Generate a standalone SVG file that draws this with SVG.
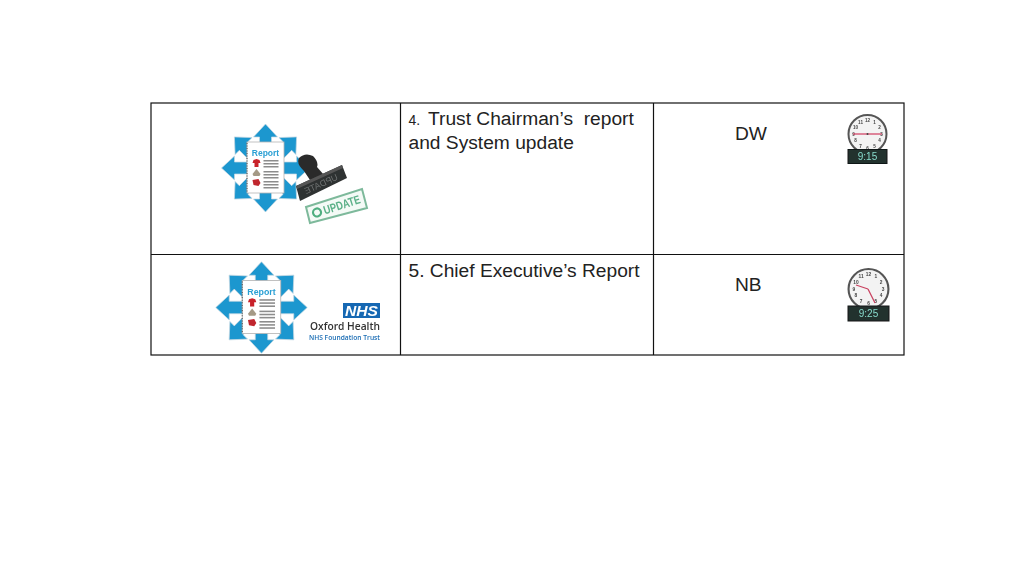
<svg xmlns="http://www.w3.org/2000/svg" width="1024" height="576" viewBox="0 0 1024 576">
<style>
text{font-family:"Liberation Sans",Arial,sans-serif;white-space:pre}
.t{font-size:19.200px;fill:#222}
.grid{stroke:#111;stroke-width:1.200;fill:none}
.ar{fill:#1f97cf;stroke:#c4d8e2;stroke-width:.7}
.bar{fill:#8c8c8c}
.n{font-size:4.600px;fill:#444;text-anchor:middle;font-weight:bold}
.disp{fill:#24302f;stroke:#101818;stroke-width:1}
.dt{font-size:10px;fill:#86dccb;text-anchor:middle}
.soft{filter:url(#soft)}
</style>
<defs>
<filter id="soft" x="-10%" y="-10%" width="120%" height="120%"><feGaussianBlur stdDeviation="0.35"/></filter>
<g id="report">
<path id="a" class="ar" d="M0-44 L12-31 L6-31 L6-15 L-6-15 L-6-31 L-12-31Z"/>
<use href="#a" transform="rotate(90)"/>
<use href="#a" transform="rotate(180)"/>
<use href="#a" transform="rotate(270)"/>
<use href="#a" transform="rotate(45)"/>
<use href="#a" transform="rotate(135)"/>
<use href="#a" transform="rotate(225)"/>
<use href="#a" transform="rotate(315)"/>
<rect x="-18.500" y="-26" width="37" height="51" fill="#fff" stroke="#b5b5b5" stroke-width=".8"/>
<line x1="-18.500" y1="-25" x2="-18.500" y2="24" stroke="#666" stroke-width="1.200" stroke-dasharray="1 1.500"/>
<text x="0" y="-12.500" font-size="8.500" font-weight="bold" fill="#2ba0d4" text-anchor="middle">Report</text>
<path d="M-12-8 L-9-9 L-6-8 L-5-5 L-7-5 L-7-1 L-11-1 L-11-5 L-13-5Z" fill="#c8202a"/>
<path d="M-13 6 L-9 1 L-5 6 L-6 8 L-12 8Z" fill="#a59a86"/>
<path d="M-13 12 L-7 11 L-5 15 L-7 18 L-12 17Z" fill="#c0252d"/>
<rect class="bar" x="-2" y="-8" width="15" height="1.500"/><rect class="bar" x="-2" y="-5" width="15" height="1.500"/><rect class="bar" x="-2" y="-2" width="15" height="1.500"/>
<rect class="bar" x="-2" y="3" width="15" height="1.500"/><rect class="bar" x="-2" y="6" width="15" height="1.500"/><rect class="bar" x="-2" y="9" width="15" height="1.500"/>
<rect class="bar" x="-2" y="13" width="15" height="1.500"/><rect class="bar" x="-2" y="16" width="15" height="1.500"/><rect class="bar" x="-2" y="19" width="15" height="1.500"/>
</g>
<g id="dial">
<circle r="19" fill="#f3f3f3" stroke="#555" stroke-width="2"/>
<text class="n" x="0" y="-12.500">12</text><text class="n" x="7" y="-10.500">1</text><text class="n" x="12" y="-5">2</text><text class="n" x="14" y="1.500">3</text><text class="n" x="12" y="8">4</text><text class="n" x="7" y="13.500">5</text><text class="n" x="0" y="15.500">6</text><text class="n" x="-7" y="13.500">7</text><text class="n" x="-12" y="8">8</text><text class="n" x="-14" y="1.500">9</text><text class="n" x="-12" y="-5">10</text><text class="n" x="-7" y="-10.500">11</text>
</g>
</defs>

<g id="connectors" class="grid">
<rect x="151" y="103" width="753" height="252"/>
<line x1="151" y1="254.500" x2="904" y2="254.500"/>
<line x1="400.500" y1="103" x2="400.500" y2="355"/>
<line x1="653.500" y1="103" x2="653.500" y2="355"/>
</g>

<g id="node-report-update" class="soft">
<use href="#report" transform="translate(265.500 168)"/>
<polygon points="306,207 362,189 367,208 310,223" fill="#f4faf6" stroke="#7db99b" stroke-width="2"/>
<g transform="rotate(-18 337 206)">
<circle cx="316" cy="206" r="4" fill="none" stroke="#4fae80" stroke-width="2.200"/>
<text x="342" y="210.500" font-size="12" font-weight="bold" fill="#5cb088" text-anchor="middle" textLength="38" lengthAdjust="spacingAndGlyphs">UPDATE</text>
</g>
<path d="M310 180 L304 171 Q296 164 299 158 Q305 152 313 156 Q319 162 317 167 L324 175Z" fill="#2b2b2b"/>
<polygon points="296,186 342,165 347,178 300,201" fill="#2e3030"/>
<polygon points="296,186 342,165 343,168 297,189" fill="#555"/>
<g transform="rotate(-24.500 321 184)">
<text x="0" y="0" font-size="9" fill="#6d7272" text-anchor="middle" transform="translate(321 187) scale(-1 1)">UPDATE</text>
</g>
</g>

<g id="node-report-nhs" class="soft">
<use href="#report" transform="translate(261.500 307.500) scale(1.040)"/>
<rect x="343" y="303" width="37" height="15" fill="#1267b3"/>
<text x="361.500" y="316" font-size="15" font-weight="bold" font-style="italic" fill="#fff" text-anchor="middle" textLength="33" lengthAdjust="spacingAndGlyphs">NHS</text>
<text x="380" y="330" font-size="10.500" font-weight="600" style="font-family:'Open Sans',sans-serif" fill="#333" text-anchor="end" textLength="70" lengthAdjust="spacingAndGlyphs">Oxford Health</text>
<text x="380" y="340" font-size="6.500" font-weight="600" style="font-family:'Open Sans',sans-serif" fill="#1a6cb4" text-anchor="end" textLength="71" lengthAdjust="spacingAndGlyphs">NHS Foundation Trust</text>
</g>

<g id="node-item4">
<text class="t" x="408.500" y="125"><tspan font-size="14">4.</tspan><tspan x="428">Trust Chairman’s  report</tspan></text>
<text class="t" x="408.500" y="149">and System update</text>
</g>
<g id="node-item5">
<text class="t" x="408.500" y="277">5. Chief Executive’s Report</text>
</g>
<g id="node-dw">
<text class="t" x="735" y="140">DW</text>
</g>
<g id="node-nb">
<text class="t" x="735" y="291">NB</text>
</g>

<g id="node-clock-915" class="soft">
<use href="#dial" transform="translate(867.500 134)"/>
<line x1="853" y1="134" x2="882" y2="134" stroke="#d2486a" stroke-width="1.300"/>
<circle cx="867.500" cy="134" r="1" fill="#444"/>
<rect class="disp" x="848" y="149.500" width="39" height="14"/>
<text class="dt" x="867.500" y="160">9:15</text>
</g>
<g id="node-clock-925" class="soft">
<use href="#dial" transform="translate(868.500 289) scale(1.050)"/>
<line x1="856" y1="285" x2="868" y2="289" stroke="#c9405f" stroke-width="1.300"/>
<line x1="868" y1="289" x2="875" y2="303" stroke="#c9405f" stroke-width="1.300"/>
<rect class="disp" x="848" y="306" width="41" height="15"/>
<text class="dt" x="868.500" y="317">9:25</text>
</g>
</svg>
